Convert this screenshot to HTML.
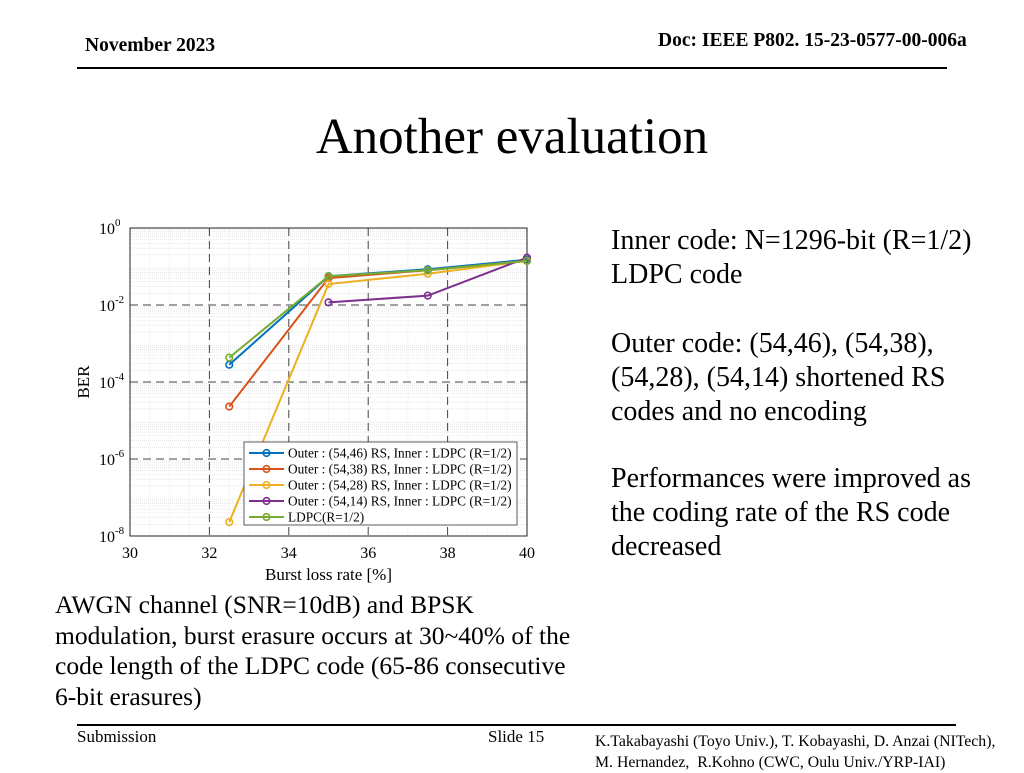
<!DOCTYPE html>
<html><head><meta charset="utf-8"><style>
body{margin:0;width:1024px;height:768px;background:#fff;position:relative;overflow:hidden;font-family:"Liberation Serif",serif;color:#000}
.a{position:absolute;white-space:nowrap}
</style></head><body>
<div class="a" style="left:658px;top:30px;font-size:19.5px;font-weight:bold">Doc: IEEE P802. 15-23-0577-00-006a</div>
<div class="a" style="left:85px;top:35px;font-size:19.5px;font-weight:bold">November 2023</div>
<div class="a" style="left:77px;top:67px;width:870px;height:1.5px;background:#000"></div>
<div class="a" style="left:0;width:1024px;text-align:center;top:108px;font-size:51px">Another evaluation</div>
<div class="a" style="left:611px;top:224px;font-size:28px;line-height:34px">Inner code: N=1296-bit (R=1/2)<br>LDPC code</div>
<div class="a" style="left:611px;top:327px;font-size:28px;line-height:34px">Outer code: (54,46), (54,38),<br>(54,28), (54,14) shortened RS<br>codes and no encoding</div>
<div class="a" style="left:611px;top:462px;font-size:28px;line-height:34px">Performances were improved as<br>the coding rate of the RS code<br>decreased</div>
<div class="a" style="left:55px;top:590px;font-size:25.5px;line-height:30.5px">AWGN channel (SNR=10dB) and BPSK<br>modulation, burst erasure occurs at 30~40% of the<br>code length of the LDPC code (65-86 consecutive<br>6-bit erasures)</div>
<div class="a" style="left:77px;top:724px;width:879px;height:1.5px;background:#000"></div>
<div class="a" style="left:77px;top:727px;font-size:17px">Submission</div>
<div class="a" style="left:488px;top:727px;font-size:17px">Slide 15</div>
<div class="a" style="left:595px;top:731px;font-size:15.8px;line-height:21px">K.Takabayashi (Toyo Univ.), T. Kobayashi, D. Anzai (NITech),<br>M. Hernandez,&nbsp; R.Kohno (CWC, Oulu Univ./YRP-IAI)</div>
<svg id="chart" width="1024" height="768" style="position:absolute;left:0;top:0" font-family="Liberation Serif, serif"></svg>
<script>
const xValues=[32.5,35,37.5,40];
const seriesNames=["Outer : (54,46) RS, Inner : LDPC (R=1/2)","Outer : (54,38) RS, Inner : LDPC (R=1/2)","Outer : (54,28) RS, Inner : LDPC (R=1/2)","Outer : (54,14) RS, Inner : LDPC (R=1/2)","LDPC(R=1/2)"];
const rs46=[2.8e-4,0.056,0.085,0.15];
const rs38=[2.3e-5,0.05,0.08,0.14];
const rs28=[2.3e-8,0.035,0.065,0.14];
const rs14=[null,0.0117,0.0175,0.17];
const ldpc=[4.3e-4,0.056,0.08,0.14];
const xTicks=[30,32,34,36,38,40];
const yExps=[0,-2,-4,-6,-8];
const colors=["#0072BD","#D95319","#EDB120","#7E2F8E","#77AC30"];
const allSeries=[rs46,rs38,rs28,rs14,ldpc];
const L=130,R=527,T=228,B=536;
const X=v=>L+(v-30)/10*(R-L);
const Y=v=>T+(-Math.log10(v))/8*(B-T);
const svg=document.getElementById('chart');
const NS="http://www.w3.org/2000/svg";
function mk(t,a,p){const e=document.createElementNS(NS,t);for(const k in a)e.setAttribute(k,a[k]);(p||svg).appendChild(e);return e;}
for(let d=0;d<8;d++)for(let m=2;m<=9;m++){const y=Y(m*Math.pow(10,-8+d));const l=mk('line',{x1:L,x2:R,y1:y,y2:y,stroke:'#ddd','stroke-width':0.7,'stroke-dasharray':'1,1'});

}
for(let v=30;v<=40;v+=0.5){const x=X(v);const l=mk('line',{x1:x,x2:x,y1:T,y2:B,stroke:'#e4e4e4','stroke-width':0.7,'stroke-dasharray':'1,1'});

}
xTicks.forEach(v=>{const x=X(v);
const g=mk('line',{x1:x,x2:x,y1:T,y2:B,stroke:'#444','stroke-width':1,'stroke-dasharray':'8,5'});


const t=mk('text',{x:x,y:B+22,'font-size':16,'text-anchor':'middle'});t.textContent=v;

});
yExps.forEach(e=>{const y=Y(Math.pow(10,e));
const g=mk('line',{x1:L,x2:R,y1:y,y2:y,stroke:'#444','stroke-width':1,'stroke-dasharray':'8,5'});


const t=mk('text',{x:L-31,y:y+6,'font-size':16});t.innerHTML='10<tspan dy="-8" font-size="11">'+e+'</tspan>';

});
const box=mk('rect',{x:L,y:T,width:R-L,height:B-T,fill:'none',stroke:'#222','stroke-width':1});


const xt=mk('text',{x:(L+R)/2,y:580,'font-size':17,'text-anchor':'middle'});xt.textContent='Burst loss rate [%]';


const yt=mk('text',{x:0,y:0,'font-size':17,'text-anchor':'middle',transform:'translate(89,382) rotate(-90)'});yt.textContent='BER';


allSeries.forEach((s,i)=>{let pts=[];s.forEach((v,j)=>{if(v!=null)pts.push([X(xValues[j]),Y(v)]);});
const pl=mk('polyline',{points:pts.map(p=>p.join(',')).join(' '),fill:'none',stroke:colors[i],'stroke-width':2});


pts.forEach(p=>{const c=mk('circle',{cx:p[0],cy:p[1],r:3.3,fill:'none',stroke:colors[i],'stroke-width':1.6});

});});
const lg=mk('rect',{x:244,y:442,width:273,height:83,fill:'#fff',stroke:'#333','stroke-width':0.8});


seriesNames.forEach((n,i)=>{const y=453+i*16;
const l=mk('line',{x1:249,x2:284,y1:y,y2:y,stroke:colors[i],'stroke-width':2});


const c=mk('circle',{cx:266.5,cy:y,r:3.3,fill:'none',stroke:colors[i],'stroke-width':1.6});


const t=mk('text',{x:288,y:y+4.5,'font-size':13.3});t.textContent=n;

});
</script>
</body></html>
